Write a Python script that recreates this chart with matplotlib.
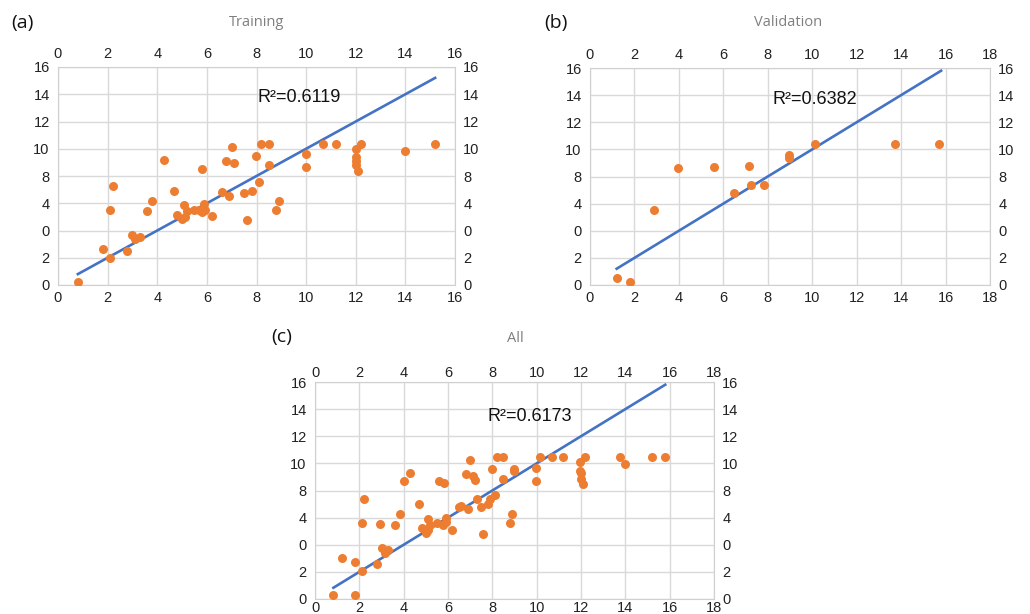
import matplotlib.pyplot as plt

# tick labels as printed on the y axes (bottom to top)
y_tick_pos = [0, 2, 4, 6, 8, 10, 12, 14, 16]
y_tick_labels = ['0', '2', '0', '4', '8', '10', '12', '14', '16']

# (a) Training
train_x = [0.79, 1.80, 2.11, 2.11, 2.20, 2.79, 2.99, 3.11, 3.29, 3.60, 3.80, 4.28, 4.68,
           4.81, 5.01, 5.09, 5.19, 5.10, 5.49, 5.69, 5.80, 5.81, 5.89, 5.91, 6.19, 6.59,
           6.79, 6.90, 7.00, 7.10, 7.49, 7.60, 7.80, 7.99, 8.09, 8.20, 8.50, 8.50, 8.79,
           8.90, 10.0, 10.0, 10.7, 11.21, 12.0, 12.0, 12.0, 12.01, 12.1, 12.21, 14.0, 15.21]
train_y = [0.24, 2.66, 2.00, 5.54, 7.30, 2.52, 3.66, 3.35, 3.52, 5.42, 6.20, 9.18, 6.91,
           5.13, 4.84, 5.86, 5.45, 5.00, 5.50, 5.50, 8.50, 5.35, 5.94, 5.54, 5.06, 6.79,
           9.08, 6.55, 10.14, 8.94, 6.72, 4.74, 6.89, 9.48, 7.57, 10.38, 10.38, 8.79, 5.54,
           6.20, 9.60, 8.65, 10.38, 10.38, 9.99, 9.38, 9.10, 8.79, 8.40, 10.38, 9.84, 10.38]
train_fit = [0.8, 15.2]
train_r2 = 0.6119

# (b) Validation
val_x = [1.20, 1.79, 2.90, 3.98, 5.58, 6.47, 7.16, 7.26, 7.85, 8.96, 8.96, 10.14, 13.73, 15.72]
val_y = [0.49, 0.25, 5.50, 8.64, 8.69, 6.77, 8.74, 7.34, 7.36, 9.57, 9.40, 10.43, 10.43, 10.43]
val_fit = [1.2, 15.8]
val_r2 = 0.6382

# (c) All
all_x = [0.83, 1.20, 1.80, 1.80, 2.12, 2.12, 2.22, 2.81, 2.91, 3.02, 3.14, 3.31, 3.61,
         3.82, 4.01, 4.30, 4.70, 4.81, 5.00, 5.11, 5.08, 5.18, 5.51, 5.59, 5.80, 5.78,
         5.89, 5.90, 6.19, 6.48, 6.60, 6.79, 6.90, 7.00, 7.11, 7.20, 7.30, 7.48, 7.60,
         7.80, 7.89, 7.99, 8.10, 8.20, 8.50, 8.50, 8.79, 8.89, 8.98, 8.98, 9.98, 9.98,
         10.17, 10.70, 11.19, 11.97, 11.97, 11.99, 12.00, 12.09, 12.18, 13.75, 13.99,
         15.19, 15.78]
all_y = [0.32, 3.01, 2.70, 0.32, 2.03, 5.61, 7.35, 2.57, 5.51, 3.75, 3.41, 3.60, 5.46,
         6.27, 8.67, 9.26, 7.01, 5.22, 4.88, 5.91, 5.07, 5.46, 5.61, 8.72, 8.55, 5.42,
         6.00, 5.66, 5.12, 6.79, 6.86, 9.19, 6.62, 10.22, 9.04, 8.77, 7.35, 6.76, 4.78,
         6.98, 7.40, 9.56, 7.67, 10.46, 10.46, 8.85, 5.61, 6.27, 9.61, 9.46, 9.68, 8.72,
         10.46, 10.46, 10.46, 10.07, 9.46, 9.26, 8.85, 8.45, 10.46, 10.46, 9.92,
         10.46, 10.46]
all_fit = [0.83, 15.8]
all_r2 = 0.6173

W, H = 1030, 614
fig = plt.figure(figsize=(W / 100, H / 100), dpi=100)


def px_axes(left, top, right, bottom):
    return fig.add_axes([left / W, 1 - bottom / H, (right - left) / W, (bottom - top) / H])


def draw_panel(ax, xs, ys, fit, r2, xmax, r2_pos, bottom_pad=4):
    ax.scatter(xs, ys, s=42, color='#ED7D31', zorder=3, linewidths=0)
    ax.plot(fit, fit, color='#4472C4', linewidth=1.9, zorder=2)
    ax.set_xlim(0, xmax)
    ax.set_ylim(0, 16)
    ax.set_xticks(range(0, xmax + 1, 2))
    ax.set_yticks(y_tick_pos)
    ax.set_yticklabels(y_tick_labels)
    ax.grid(True, color='#d9d9d9', linewidth=1)
    ax.set_axisbelow(True)
    for s in ax.spines.values():
        s.set_color('#d0d0d0')
    ax.tick_params(length=0, labelsize=10.5, labelcolor='#222222',
                   labeltop=True, labelright=True)
    ax.tick_params(axis='x', pad=bottom_pad)
    ax.tick_params(axis='y', pad=6)
    for lab in ax.get_xticklabels() + ax.get_yticklabels():
        lab.set_family('Liberation Sans')
    ax.text(r2_pos[0], r2_pos[1], 'R²=%.4f' % r2, transform=ax.transAxes,
            ha='center', va='center', fontsize=13, family='Liberation Sans',
            color='#111111')


ax_a = px_axes(58, 67, 455, 285)
draw_panel(ax_a, train_x, train_y, train_fit, train_r2, 16, (0.607, 0.858))
ax_b = px_axes(590, 68, 990, 285)
draw_panel(ax_b, val_x, val_y, val_fit, val_r2, 18, (0.5625, 0.857))
ax_c = px_axes(315, 382, 714, 599)
draw_panel(ax_c, all_x, all_y, all_fit, all_r2, 18, (0.538, 0.843), bottom_pad=1.5)

for lbl, x, y in [('(a)', 11, 23), ('(b)', 544, 23), ('(c)', 271, 337)]:
    fig.text(x / W, 1 - y / H, lbl, ha='left', va='center', fontsize=14,
             family='Open Sans', color='#111111')
for ttl, x, y in [('Training', 257, 23), ('Validation', 788, 23), ('All', 515, 339)]:
    fig.text(x / W, 1 - y / H, ttl, ha='center', va='center', fontsize=10.5,
             family='Open Sans', color='#7f7f7f')

fig.savefig('out.png', dpi=100)
